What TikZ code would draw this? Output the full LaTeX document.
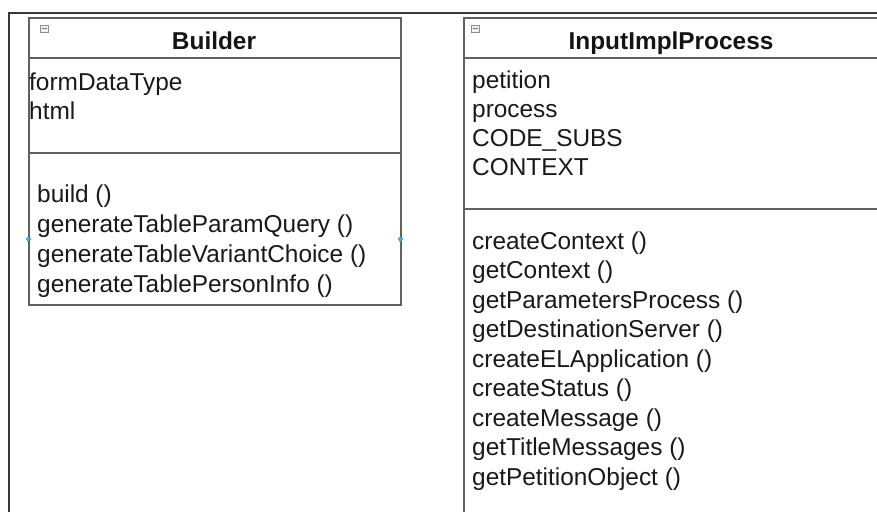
\documentclass[tikz,border=0pt]{standalone}
\usepackage{fontspec}
\setmainfont{Liberation Sans}
\begin{document}
\begin{tikzpicture}[x=1pt,y=-1pt,
			frameline/.style={draw=black!78,line width=2pt},
			classbox/.style={draw=black!62,line width=1.8pt,anchor=north west,inner sep=0pt},
			divider/.style={draw=black!62,line width=1.8pt},
			membertext/.style={anchor=base west,inner sep=0pt,text=black!90,font=\fontsize{24.4}{29}\selectfont},
			titletext/.style={anchor=base,inner sep=0pt,text=black!92,font=\fontsize{24.4}{29}\selectfont\bfseries},
			collapse/.style={draw=black!45,fill=black!6,line width=0.7pt,minimum width=8pt,minimum height=7pt,inner sep=0pt,
				path picture={\draw[black!55,line width=0.9pt] ([xshift=1.5pt]path picture bounding box.west) -- ([xshift=-1.5pt]path picture bounding box.east);}},
			port/.style={draw={rgb,255:red,70;green,170;blue,240},line width=1.1pt}
			]
			
			\useasboundingbox (0,0) rectangle (877,511);
			
			% outer frame
			\coordinate (frame top) at (880,13);
			\coordinate (frame corner) at (9,13);
			\coordinate (frame bottom) at (9,515);
			\draw[frameline] (frame top) -- (frame corner) -- (frame bottom);
			
			% class Builder
			\node[classbox,minimum width=372pt,minimum height=287pt] (builder) at (28,17) {};
			\draw[divider] ([yshift=-41pt]builder.north west) -- ([yshift=-41pt]builder.north east);
			\draw[divider] ([yshift=-136pt]builder.north west) -- ([yshift=-136pt]builder.north east);
			\node[collapse] (builder icon) at (44,28.5) {};
			\node[titletext] (builder title) at (214,49) {Builder};
			\foreach \txt [count=\i] in {formDataType, html}
			\node[membertext] (builder-attr-\i) at (29,{90+29*(\i-1)}) {\txt};
			\foreach \txt [count=\i] in {build (), generateTableParamQuery (), generateTableVariantChoice (), generateTablePersonInfo ()}
			\node[membertext] (builder-op-\i) at (37,{202+30*(\i-1)}) {\txt};
			
			% ports
			\coordinate (west port) at (28,239);
			\coordinate (east port) at (400,239);
			\foreach \p in {west port, east port}
			\draw[port] ([xshift=-2.5pt]\p) -- ([xshift=2.5pt]\p) ([yshift=-2.5pt]\p) -- ([yshift=2.5pt]\p);
			
			% class InputImplProcess
			\node[classbox,minimum width=416pt,minimum height=510pt] (process) at (463,17) {};
			\draw[divider] ([yshift=-41pt]process.north west) -- ([yshift=-41pt]process.north east);
			\draw[divider] ([yshift=-192pt]process.north west) -- ([yshift=-192pt]process.north east);
			\node[collapse] (process icon) at (475.5,28.5) {};
			\node[titletext] (process title) at (671,49) {InputImplProcess};
			\foreach \txt [count=\i] in {petition, process, CODE\_SUBS, CONTEXT}
			\node[membertext] (process-attr-\i) at (472,{88.5+29*(\i-1)}) {\txt};
			\foreach \txt [count=\i] in {createContext (), getContext (), getParametersProcess (), getDestinationServer (), createELApplication (), createStatus (), createMessage (), getTitleMessages (), getPetitionObject ()}
			\node[membertext] (process-op-\i) at (472,{249+29.5*(\i-1)}) {\txt};
		\end{tikzpicture}
\end{document}
